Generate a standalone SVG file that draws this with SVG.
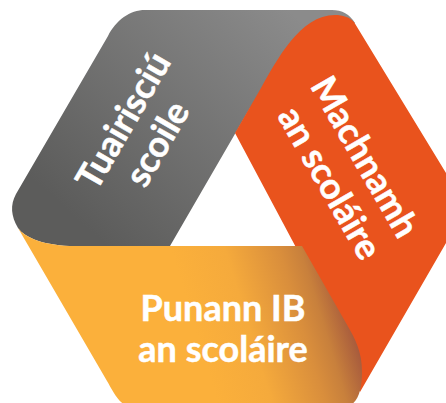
<svg xmlns="http://www.w3.org/2000/svg" width="446" height="403" viewBox="0 0 446 403">
<style>
.t{font-family:Lato,"Liberation Sans",sans-serif;font-weight:700;font-size:36px;fill:#fff;stroke:#fff;stroke-width:.5;text-anchor:middle}
</style>
<defs>
<linearGradient id="gy" gradientUnits="userSpaceOnUse" x1="100" y1="240" x2="300" y2="20"><stop offset="0" stop-color="#5c5c5b"/><stop offset="1" stop-color="#8b8b8b"/></linearGradient>
<linearGradient id="ye" gradientUnits="userSpaceOnUse" x1="200" y1="345" x2="365" y2="295"><stop offset="0" stop-color="#fbb03b"/><stop offset="0.3" stop-color="#f5aa3c"/><stop offset="0.6" stop-color="#d98e3c"/><stop offset="0.72" stop-color="#c8803c"/><stop offset="0.87" stop-color="#a85c3d"/></linearGradient>
</defs>
<g id="gray">
<path fill="url(#gy)" d="M145,10 L332,10 Q347,10 355,23 L300,60 L250,108 L170,246 L75,246 C45,246 25,238 18,228 C11,216 10,205 16,194 L108,36 C116,20 130,10 145,10 Z"/>
</g>
<g id="orange">
<path fill="#e9531d" d="M235,133 L261,88 C277,60 300,15 335,15 C343,15 349,17 354,22 L446,173 L446,243 L360,392 L340,330 Z"/>
</g>
<g id="yellow">
<path fill="url(#ye)" d="M18,228 C25,238 45,246 75,246 L302,246 L346,323 C356,340 362,352 362,372 C362,392 357,408 340,408 L135,408 C120,408 113,391 107,381 Z"/>
</g>
<text class="t" transform="translate(134,127) rotate(-60)">Tuairisciú</text>
<text class="t" transform="translate(168,150) rotate(-60)">scoile</text>
<text class="t" transform="translate(354,163) rotate(60)">Machnamh</text>
<text class="t" transform="translate(319,189) rotate(60)">an scoláire</text>
<text class="t" x="223" y="321">Punann IB</text>
<text class="t" x="223" y="362">an scoláire</text>
</svg>
